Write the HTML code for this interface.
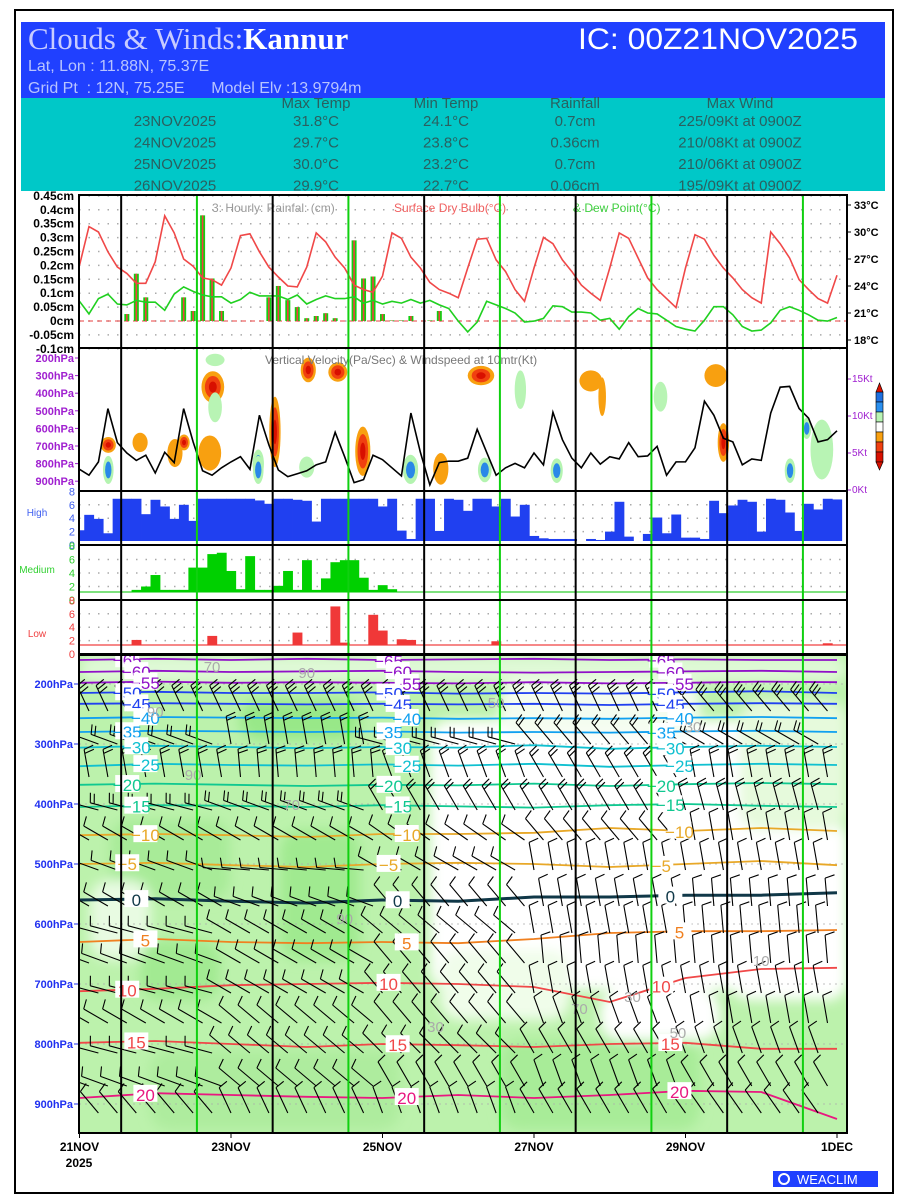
<!DOCTYPE html>
<html><head><meta charset="utf-8"><title>Clouds & Winds: Kannur</title>
<style>
html,body{margin:0;padding:0;background:#fff;}
svg{display:block;font-family:"Liberation Sans",sans-serif;}
</style></head>
<body>
<svg id="chart" width="900" height="1200" viewBox="0 0 900 1200" xmlns="http://www.w3.org/2000/svg">
<defs>
<filter id="blur6" x="-20%" y="-20%" width="140%" height="140%"><feGaussianBlur stdDeviation="6"/></filter>
<clipPath id="clipBig"><rect x="79" y="655" width="768" height="478"/></clipPath>
<clipPath id="clipVV"><rect x="79" y="348" width="768" height="142"/></clipPath>
</defs>
<rect x="15" y="10" width="878" height="1183" fill="#fff" stroke="#000" stroke-width="2"/>
<g>
<rect x="21" y="22" width="864" height="76" fill="#2040ff"/>
<text x="28" y="49" font-family="'Liberation Serif',serif" font-size="31" fill="#c8ccff">Clouds &amp; Winds:<tspan fill="#fff" font-weight="bold">Kannur</tspan></text>
<text x="858" y="49" text-anchor="end" font-size="30" fill="#fff" textLength="280" lengthAdjust="spacingAndGlyphs">IC: 00Z21NOV2025</text>
<text x="28" y="71" font-size="16" fill="#b8c4ff">Lat, Lon : 11.88N, 75.37E</text>
<text x="28" y="93" font-size="16" fill="#b8c4ff">Grid Pt&#160;&#160;: 12N, 75.25E&#160;&#160;&#160;&#160;&#160;&#160;Model Elv :13.9794m</text>
<rect x="21" y="98" width="864" height="93" fill="#00c8c8"/>
</g>
<g id="table" font-size="15" fill="#2a6060" text-anchor="middle"></g>

<g id="plots"></g>

<g>
<rect x="773" y="1171" width="105" height="16" fill="#2040ff"/>
<circle cx="784" cy="1179" r="5" fill="none" stroke="#fff" stroke-width="2"/>
<text x="797" y="1184" font-size="13" fill="#fff">WEACLIM</text>
</g>
</svg>
<script>
// ---------------- DATA ----------------
const tableDates = ["23NOV2025","24NOV2025","25NOV2025","26NOV2025"];
const tableMax = ["31.8°C","29.7°C","30.0°C","29.9°C"];
const tableMin = ["24.1°C","23.8°C","23.2°C","22.7°C"];
const tableRain = ["0.7cm","0.36cm","0.7cm","0.06cm"];
const tableWind = ["225/09Kt at 0900Z","210/08Kt at 0900Z","210/06Kt at 0900Z","195/09Kt at 0900Z"];

const dayLabels = ["21NOV","23NOV","25NOV","27NOV","29NOV","1DEC"];
const dayLabelDays = [0,2,4,6,8,10];

const tempC = [26.3,30.6,30,27.8,26.1,25.4,24.3,24.3,26.7,31.8,29.9,27,26.2,24.9,24.7,24.1,26,29.6,29.8,27.8,26.1,25,24,23.9,26.1,29.9,28.9,27.2,26,24.1,23.6,23.3,25.1,29.9,29.3,27.2,26,24.4,23.6,
 23.2,22.7,26,29.2,29.3,26.9,25.6,23.6,22.3,26,29.4,28.7,26.9,25.6,24.1,23.2,22.4,26,29.9,29.3,27.1,24.9,23.6,22.6,21.6,26,29.7,29.2,27.4,26,24.9,23.6,22.7,22.1,30,28.7,27.1,24.7,23.6,22.6,22.1,25.2];
const dewC = [22.3,20.9,22.6,23.1,22,21.9,22.4,22.2,22.2,21.3,23.1,23.9,23.4,23,22.8,22.8,22.1,22.5,23.3,22.9,22.9,22.9,22.5,23,22,22.5,22.9,22.6,22.6,22.8,22.1,22.4,22,22.3,22.1,22.5,22.1,22.4,21.9,
 21.5,20.1,18.9,20,22.3,21.9,21.5,21,20,20.1,20.4,21.8,21.7,21.1,21.1,21,20.2,20.4,19.2,20.6,21.5,21,20.9,20.2,19.5,19.2,19,20.2,21.7,21.7,20.8,19.5,19,19.1,19.9,21.3,21.7,21.3,20.8,20.2,20.1,20.5];
const rainCm = [0,0,0,0,0,0.025,0.17,0.085,0,0,0,0.085,0.036,0.38,0.153,0.036,0,0,0,0,0.085,0.126,0.075,0.05,0.01,0.018,0.028,0.01,0,0.29,0.153,0.16,0.025,0.002,0.002,0.018,0,0.002,0.036,
 0,0,0,0,0,0,0,0,0,0,0,0,0,0,0,0,0,0,0,0,0,0,0,0,0,0,0,0,0,0,0,0,0,0,0,0,0,0,0,0,0,0];
const windKt = [2.8,2.0,3.8,11,6.4,5,4,4.7,2.3,5.1,3.7,11,6.5,2.6,2,3,3.8,4.5,2.8,10.1,6.1,2.7,1.8,2.2,2.6,3.4,3.8,7.8,4.5,1,1.4,4.7,4.1,3,1.9,10.4,5.1,0.7,3.7,3.9,
 3.9,4.3,8.2,5.1,2,3,3.6,3,5,3.4,10.5,6.8,4.3,3,5,3.5,4.5,4.2,6.4,4.5,4.6,5.9,2,3.8,3.8,5.7,12,10.1,7,6.5,3.4,4.2,4,10.4,13.9,14,11,9.7,6.5,6.8,8];
const highCloud = [2.2,4.5,3.9,1.75,6.9,6.9,6.9,4.6,6.75,5.75,3.9,6,3.6,6.9,6.9,6.9,6.9,6.9,6.9,6.65,6.15,6.9,6.9,6.75,6.6,3.5,6.9,6.9,6.9,6.9,6.9,6.9,5.75,6.9,2.15,0.9,6.9,6.9,2.1,
 6.9,6.75,5.1,6.9,6.9,5.75,6.9,4.25,6,1.35,1,0.9,0.9,0.9,0,0.9,0.75,2,6.45,1.25,0,1.65,4.1,1.75,4.55,1.1,1.1,0.9,6.6,4.75,5.9,6.75,6.45,2,6.9,6.75,4.85,2.1,6.15,5.3,6.9,6.8];
const medCloud = [0,0,0,0,0,0,1.5,2,3.7,1.5,1.5,1.5,4.8,4.8,6.8,7,4.3,1.6,6.5,1.5,1.5,2.1,4.3,1.5,5.9,1.5,3.2,5.6,5.9,5.9,3.3,1.5,2.2,1.6,0,0,0,0,0,0,0,0,0,0,0,0,0,0,0,0,0,0,0,0,0,0,0,0,0,0,0,0,0,0,0,0,0,0,0,0,0,0,0,0,0,0,0,0,0,0,0];
const lowCloud = [0,0,0,0,0,0,2.1,0,0,0,0,0,0,0,2.7,0,0,0,0,0,0,0,0,3.2,0,0,0,7.1,1.7,0,0,5.85,3.5,0,2.2,2.1,0,0,0,0,0,0,0,0,1.9,0,0,0,0,0,0,0,0,0,0,0,0,0,0,0,0,0,0,0,0,0,0,0,0,0,0,0,0,0,0,0,0,0,0,1.6,0];

const rainTicks = [0.45,0.4,0.35,0.3,0.25,0.2,0.15,0.1,0.05,0,-0.05,-0.1];
const tempTicks = [33,30,27,24,21,18];
const vvLevels = [200,300,400,500,600,700,800,900];
const windTicks = [0,5,10,15];
const cloudTicks = [0,2,4,6,8];
const presLevels = [200,300,400,500,600,700,800,900];

const isoTemps = [-65,-60,-55,-50,-45,-40,-35,-30,-25,-20,-15,-10,-5,0,5,10,15,20];
const isoP = [
 [160,158,160,158,160,159,158,160,159,160,160],
 [180,178,180,179,178,180,181,180,179,178,180],
 [198,196,198,197,198,199,197,199,198,196,197],
 [215,213,215,215,214,216,215,216,214,212,215],
 [233,232,233,234,233,234,233,235,233,232,233],
 [257,255,256,257,256,258,257,258,256,255,257],
 [280,278,279,280,279,281,280,281,279,278,280],
 [306,303,305,307,305,306,302,308,305,303,305],
 [337,333,335,336,334,336,333,338,335,333,335],
 [368,366,368,370,368,369,366,370,367,365,367],
 [405,402,403,405,402,404,406,402,400,403,405],
 [452,450,452,455,450,450,448,440,445,440,445],
 [500,498,502,505,500,498,500,505,500,495,502],
 [560,558,562,565,560,562,555,555,552,552,548],
 [630,625,630,632,630,632,625,615,612,612,610],
 [712,708,702,700,698,700,705,730,690,675,673],
 [798,795,800,805,800,802,805,800,798,808,808],
 [890,882,885,888,890,885,890,885,878,880,925]];

const barbLevels = [245,300,355,410,460,510,570,615,665,715,765,815,870,915];
const barbDir = [
 [-115,-115,-115,-115,-130],[-160,-100,-165,-130,-150],[-100,-95,-110,-120,-100],
 [-165,-160,-120,-120,-105],[-150,-150,-145,-130,-100],[-160,-175,-150,-100,-100],[-150,-160,-130,-100,-95],
 [-165,-150,-140,-100,-95],[-160,-150,-130,-95,-95],[-165,-150,-130,-100,-100],[-150,-140,-130,-110,-100],
 [-165,-140,-135,-120,-110],[-160,-140,-120,-110,-120],[-130,-115,-110,-120,-125]];
const barbSpeed = [30,20,15,15,12,12,10,10,10,10,10,10,10,10];

const vvDay  = [1.76,3.02,3.41,0.38,0.8,1.26,1.38,1.72,2.36,2.58,3.74,4.37,4.77,5.3,6.75,8.5,8.4,0.38,2.36,4.37,5.35,6.3,9.38,9.6,1.79,1.79,3.0,5.82,7.67,6.9,9.8];
const vvP    = [365,268,280,694,680,740,680,740,800,620,730,830,830,300,330,680,300,836,836,836,836,840,840,600,211,480,820,380,420,420,720];
const vvDd   = [0.3,0.2,0.25,0.2,0.2,0.2,0.15,0.3,0.15,0.15,0.2,0.2,0.2,0.35,0.3,0.15,0.3,0.14,0.14,0.2,0.18,0.16,0.14,0.12,0.25,0.18,0.2,0.15,0.18,0.1,0.3];
const vvDp   = [180,140,110,90,110,160,90,200,160,400,280,160,180,110,120,220,130,160,160,160,140,140,140,120,70,170,120,220,170,220,340];
const vvVal  = [-0.8,-0.6,-0.7,-0.6,-0.3,-0.3,-0.6,-0.3,0.5,-0.7,-0.7,0.5,-0.3,-0.6,-0.3,-0.6,-0.3,0.6,0.6,0.6,0.6,0.6,0.6,0.4,0.15,0.15,0.15,0.15,0.15,-0.3,0.15];

// ---------------- SCALES ----------------
const x0 = 79.5, pxDay = 75.75, step = pxDay/8;
const L = 79, R = 847;
function X(i){ return x0 + i*step; }
function XD(d){ return x0 + d*pxDay; }
function yRain(v){ return 321 - v/0.05*13.9; }
function yTemp(t){ return 205 + (33-t)*9; }
function yVV(p){ return 358 + (p-200)*0.176; }
function yWind(k){ return 490 - k*7.4; }
function yHigh(v){ return 545 - v*6.7; }
function yMed(v){ return 600 - v*6.75; }
function yLow(v){ return 654 - v*6.7; }
function yP(p){ return 684 + (p-200)*0.6; }

const NS = "http://www.w3.org/2000/svg";
function mk(tag, attrs, parent){
  const e = document.createElementNS(NS, tag);
  for (const k in attrs) e.setAttribute(k, attrs[k]);
  parent.appendChild(e);
  return e;
}
const root = document.getElementById('plots');
let e;

// ---------------- TABLE ----------------
const tb = document.getElementById('table');
const colX = [175,316,446,575,740];
const heads = ["","Max Temp","Min Temp","Rainfall","Max Wind"];
heads.forEach((h,c)=>{ if(!h) return;
  e = mk('text',{x:colX[c],y:108},tb); e.textContent=h;
  
  
});
const cols=[tableDates,tableMax,tableMin,tableRain,tableWind];
cols.forEach((col,c)=>col.forEach((v,r)=>{
  e = mk('text',{x:colX[c],y:126+r*21.5},tb); e.textContent=v;
  
  
}));

function dotted(y, color){
  e = mk('line',{x1:L,x2:R,y1:y,y2:y,stroke:color||'#aaa','stroke-width':1.5,'stroke-dasharray':'1.5,8'},root);
  
  
}
function label(x,y,txt,opts,name){
  e = mk('text',Object.assign({x:x,y:y,'font-size':11,'font-weight':'bold'},opts||{}),root);
  e.textContent = txt;
  
  
  return e;
}

// ---------------- PANEL 1 ----------------
rainTicks.forEach(v=>{ dotted(yRain(v));
  label(74,yRain(v)+4,v+'cm',{'text-anchor':'end','font-size':12},'rain-tick-label'); });
tempTicks.forEach(t=>{
  e = mk('line',{x1:847,x2:851,y1:yTemp(t),y2:yTemp(t),stroke:'#000'},root);
  
  
  label(854,yTemp(t)+4,t+'°C',{'font-size':11},'temp-tick-label'); });
e = mk('line',{x1:L,x2:R,y1:321,y2:321,stroke:'#e84040','stroke-width':1,'stroke-dasharray':'5,4'},root);


label(212,212,'3: Hourly: Rainfal: (cm)',{'font-weight':'normal','font-size':12,fill:'#999'},'rain-legend');
label(394,212,'Surface Dry Bulb(°C)',{'font-weight':'normal','font-size':12,fill:'#f06060'},'drybulb-legend');
label(573,212,'& Dew Point(°C)',{'font-weight':'normal','font-size':12,fill:'#40d040'},'dewpoint-legend');
rainCm.forEach((v,i)=>{ if(v<=0) return;
  e = mk('rect',{x:X(i)-2.5,y:yRain(v),width:5,height:321-yRain(v),fill:'#10d010'},root);
  
  
  e = mk('rect',{x:X(i)-0.8,y:yRain(v),width:1.6,height:321-yRain(v),fill:'#f04040'},root);
  
  
});
e = mk('polyline',{points:tempC.map((t,i)=>X(i)+','+yTemp(t)).join(' '),fill:'none',stroke:'#f04848','stroke-width':1.6},root);


e = mk('polyline',{points:dewC.map((t,i)=>X(i)+','+yTemp(t)).join(' '),fill:'none',stroke:'#20d020','stroke-width':1.6},root);



// ---------------- PANEL 2 ----------------
const vvg = mk('g',{'clip-path':'url(#clipVV)'},root);


vvDay.forEach((d,k)=>{
  const cx=XD(d), cy=yVV(vvP[k]), rx=vvDd[k]*pxDay/2, ry=vvDp[k]*0.176/2, v=vvVal[k];
  let layers;
  if (v<=-0.5) layers=[['#f8a010',1],['#f04010',0.7],['#d81000',0.35]];
  else if (v<0) layers=[['#f8a010',1]];
  else if (v>=0.4) layers=[['#b4f4b0',1],['#2a88e8',0.6]];
  else layers=[['#b8f4b4',1]];
  layers.forEach(([c,s])=>{
    e = mk('ellipse',{cx:cx,cy:cy,rx:Math.max(2,rx*s),ry:Math.max(2,ry*s),fill:c},vvg);
    
    
  });
});
vvLevels.forEach(p=>{
  label(74,yVV(p)+4,p+'hPa',{'text-anchor':'end',fill:'#a020d0'},'vv-pressure-label');
  e = mk('line',{x1:75,x2:79,y1:yVV(p),y2:yVV(p),stroke:'#a020d0'},root);
  
  
});
windTicks.forEach(k=>{
  e = mk('line',{x1:847,x2:851,y1:yWind(k),y2:yWind(k),stroke:'#a020d0'},root);
  
  
  label(852,yWind(k)+3,k+'Kt',{'font-weight':'normal','font-size':10,fill:'#a020d0'},'wind-tick-label');
});
label(265,364,'Vertical Velocity(Pa/Sec) & Windspeed at 10mtr(Kt)',{'font-weight':'normal','font-size':12,fill:'#777'},'vv-title');
e = mk('polyline',{points:windKt.map((k,i)=>X(i)+','+yWind(k)).join(' '),fill:'none',stroke:'#000','stroke-width':1.6},root);


const cbCols=['#1e70e0','#2a90f0','#b8f4b4','#ffffff','#f8a010','#f04010','#d81000'];
cbCols.forEach((c,k)=>{
  e = mk('rect',{x:876,y:392+k*10,width:7,height:10,fill:c,stroke:'#000','stroke-width':0.6},root);
  
  
});
e = mk('path',{d:'M876,392 L879.5,383 L883,392 Z M876,462 L879.5,470 L883,462 Z',fill:'#d81000',stroke:'#000','stroke-width':0.6},root);



// ---------------- CLOUD PANELS ----------------
function cloudPanel(vals, yf, base, color, lineColor, name, lbl, lblY, lblColor){
  [2,4,6].forEach(v=>dotted(yf(v)));
  cloudTicks.forEach(v=>label(75,yf(v)+4,String(v),{'text-anchor':'end','font-weight':'normal','font-size':11,fill:lblColor},name+'-tick-label'));
  if(lineColor){
    e = mk('line',{x1:L,x2:R,y1:base,y2:base,stroke:lineColor,'stroke-width':1.3},root);
    
    
  }
  vals.forEach((v,i)=>{ if(v<=0 || yf(v)>=base) return;
    e = mk('rect',{x:Math.max(L,X(i)-step/2),y:yf(v),width:step+0.4,height:base-yf(v),fill:color},root);
    
    
  });
  label(37,lblY,lbl,{'font-weight':'normal','font-size':10,fill:lblColor,'text-anchor':'middle'},name+'-label');
}
cloudPanel(highCloud,yHigh,541,'#2040f0',null,'high-cloud','High',516,'#4060f0');
cloudPanel(medCloud,yMed,592,'#00d000','#30d030','medium-cloud','Medium',573,'#30d030');
cloudPanel(lowCloud,yLow,645,'#f03838','#f04040','low-cloud','Low',637,'#f04040');

// ---------------- BIG PANEL ----------------
const bg = mk('g',{'clip-path':'url(#clipBig)'},root);


e = mk('rect',{x:79,y:655,width:768,height:478,fill:'#bcf2ac'},bg);


const patches = [
 [79,655,768,28,'#dff9d6'],[430,720,330,270,'#ffffff'],[500,680,200,55,'#f4fdf0'],[730,820,117,180,'#ffffff'],
 [740,700,107,130,'#e6fadc'],[440,950,130,70,'#f0fdea'],[600,990,120,50,'#ffffff'],[110,820,120,80,'#a8eb98'],
 [240,700,120,40,'#98e888'],[280,830,80,130,'#a0ea90'],[90,880,60,80,'#e8fbe2'],[500,1040,200,90,'#a8ec98'],
 [150,1050,250,80,'#aeec9e'],[620,860,100,80,'#ffffff'],[140,940,80,60,'#a2ea92']];
const pg = mk('g',{filter:'url(#blur6)'},bg);


patches.forEach(p=>{
  e = mk('rect',{x:p[0],y:p[1],width:p[2],height:p[3],rx:20,fill:p[4]},pg);
  
  
});
presLevels.forEach(p=>{
  e = mk('line',{x1:L,x2:R,y1:yP(p),y2:yP(p),stroke:'#aaa','stroke-dasharray':'2,4','stroke-width':0.8},bg);
  
  
});
const isoColor = {'-65':'#9010c8','-60':'#9010c8','-55':'#9010c8','-50':'#2040f0','-45':'#2040f0','-40':'#10a0f0','-35':'#10a0f0',
 '-30':'#10c0d0','-25':'#10c0d0','-20':'#10c890','-15':'#10c890','-10':'#e8a828','-5':'#e8a828','0':'#103848','5':'#f08020','10':'#f04848','15':'#f04848','20':'#e81880'};
function isoY(k,d){ const a=Math.max(0,Math.min(9,Math.floor(d))); const f=d-a; return yP(isoP[k][a]*(1-f)+isoP[k][a+1]*f); }
isoTemps.forEach((t,k)=>{
  const pts = isoP[k].map((p,d)=>XD(d)+','+yP(p)).join(' ');
  e = mk('polyline',{points:pts,fill:'none',stroke:isoColor[String(t)],'stroke-width':t===0?3:1.8},bg);
  
  
});
const bgb = mk('g',{stroke:'#000','stroke-width':1.1,fill:'none'},bg);


barbLevels.forEach((p,li)=>{
  for(let i=1+(li%2);i<80;i+=2){
    const seg=Math.min(4,Math.floor(i/16));
    const a=barbDir[li][seg]*Math.PI/180, len=28;
    const bx=X(i), by=yP(p);
    const ex=bx+Math.cos(a)*len, ey=by+Math.sin(a)*len;
    let d='M'+bx.toFixed(1)+','+by.toFixed(1)+'L'+ex.toFixed(1)+','+ey.toFixed(1);
    const nb=Math.max(1,Math.round(barbSpeed[li]/10));
    for(let b=0;b<nb;b++){
      const sx=ex-Math.cos(a)*b*4, sy=ey-Math.sin(a)*b*4;
      const ba=a+Math.PI*0.42;
      d+='M'+sx.toFixed(1)+','+sy.toFixed(1)+'l'+(Math.cos(ba)*10).toFixed(1)+','+(Math.sin(ba)*10).toFixed(1);
    }
    e = mk('path',{d:d},bgb);
    
    
  }
});
const isoLabelDays = [0.75,4.2,7.8];
isoTemps.forEach((t,k)=>{
  isoLabelDays.forEach((d,j)=>{
    const dd = d + ((k%3)-1)*0.12;
    const x=XD(dd), y=isoY(k,dd);
    e = mk('rect',{x:x-12,y:y-9,width:24,height:17,fill:'#fff'},bg);
    
    
    e = mk('text',{x:x,y:y+7,'text-anchor':'middle','font-size':17,fill:isoColor[String(t)]},bg);
    e.textContent=String(t).replace('-','−');
    
    
  });
});
const rhDays=[1.75,3.0,1.0,4.7,1.5,5.5,7.3,8.1,9.0,2.8,3.5,6.6,7.9];
const rhP=[170,180,245,770,350,230,720,270,660,400,590,740,780];
const rhVal=["70","90","90","30","90","50","30","30","10","70","90","70","50"];
rhDays.forEach((d,k)=>{
  e = mk('text',{x:XD(d),y:yP(rhP[k])+6,'text-anchor':'middle','font-size':15,fill:'#aaa'},bg);
  e.textContent=rhVal[k];
  
  
});
presLevels.forEach(p=>{
  label(73,yP(p)+4,p+'hPa',{'text-anchor':'end',fill:'#2030f0','font-size':11},'pressure-label');
  e = mk('line',{x1:74,x2:79,y1:yP(p),y2:yP(p),stroke:'#2030f0'},root);
  
  
});

// ---------------- DAY LINES & FRAMES ----------------
for(let d=0; d<10; d++){
  const x = XD(d+0.55);
  e = mk('line',{x1:x,x2:x,y1:195,y2:1133,stroke:d%2===0?'#000':'#10d010','stroke-width':2},root);
  
  
}
[[195,348],[348,491],[491,545],[545,600],[600,654],[655,1133]].forEach(([a,b])=>{
  e = mk('rect',{x:L,y:a,width:R-L,height:b-a,fill:'none',stroke:'#000','stroke-width':2},root);
  
  
});
dayLabels.forEach((t,k)=>{
  const x=XD(dayLabelDays[k]);
  e = mk('line',{x1:x,x2:x,y1:1133,y2:1138,stroke:'#000'},root);
  
  
  label(x,1151,t,{'text-anchor':'middle','font-size':12},'x-tick-label');
});
label(79,1167,'2025',{'text-anchor':'middle','font-size':12},'x-year-label');
</script>
</body></html>
